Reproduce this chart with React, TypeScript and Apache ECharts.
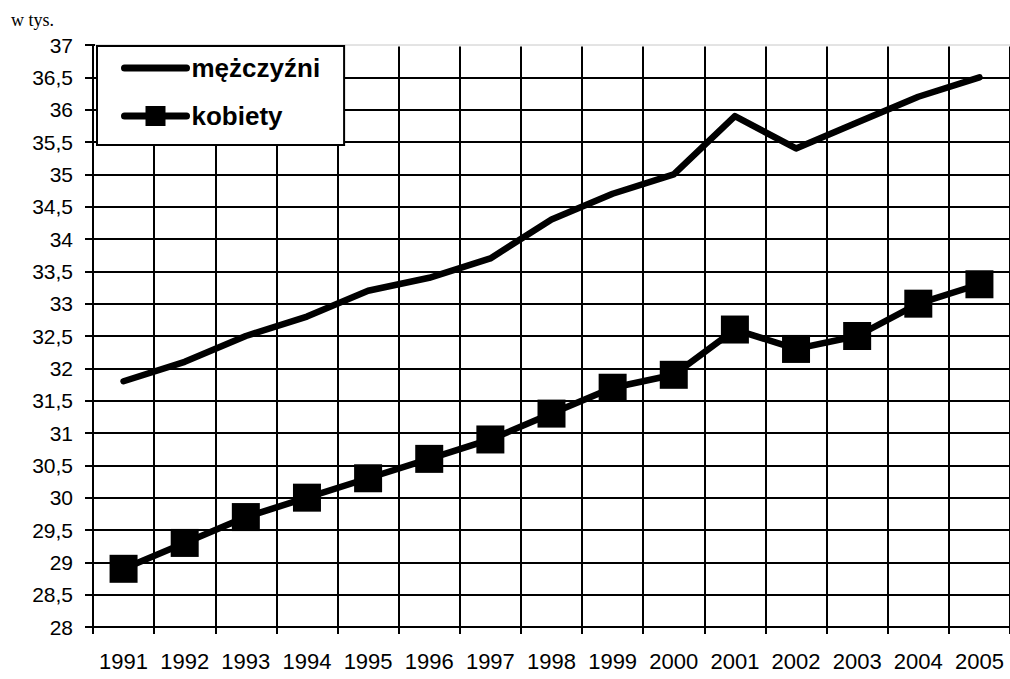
import React, { useEffect, useRef } from "react";
import * as echarts from "echarts";

const years = ["1991", "1992", "1993", "1994", "1995", "1996", "1997", "1998", "1999", "2000", "2001", "2002", "2003", "2004", "2005"];
const men = [31.8, 32.1, 32.5, 32.8, 33.2, 33.4, 33.7, 34.3, 34.7, 35.0, 35.9, 35.4, 35.8, 36.2, 36.5];
const women = [28.9, 29.3, 29.7, 30.0, 30.3, 30.6, 30.9, 31.3, 31.7, 31.9, 32.6, 32.3, 32.5, 33.0, 33.3];
const seriesNames = ["mężczyźni", "kobiety"];
const unitLabel = "w tys.";

const labelFont = "'Liberation Sans Narrow', 'Liberation Sans', Arial, sans-serif";

export default function App() {
  const ref = useRef<HTMLDivElement>(null);
  useEffect(() => {
    if (!ref.current) return;
    const chart = echarts.init(ref.current, null, { renderer: "svg" });
    const gridTop = 45;
    const gridLeft = 93;
    chart.setOption({
      animation: false,
      backgroundColor: "#ffffff",
      title: {
        text: unitLabel,
        left: 6,
        top: 6,
        textStyle: { fontFamily: "'Liberation Serif', 'Times New Roman', serif", fontSize: 18, fontWeight: "normal", color: "#000" },
      },
      grid: { left: gridLeft, top: gridTop, bottom: 52, right: -6, containLabel: false },
      legend: {
        orient: "vertical",
        left: 97,
        top: 46,
        backgroundColor: "#fff",
        borderColor: "#000",
        borderWidth: 2,
        borderRadius: 0,
        padding: [9, 24, 16, 24],
        itemGap: 22,
        itemWidth: 62,
        itemHeight: 25,
        lineStyle: { width: 7, color: "#000", cap: "round" },
        textStyle: { fontFamily: "'Liberation Sans', Arial, sans-serif", fontWeight: "bold", fontSize: 26, color: "#000" },
        data: [
          { name: seriesNames[0], itemStyle: { color: "rgba(0,0,0,0)", borderWidth: 0 } },
          { name: seriesNames[1] },
        ],
        z: 10,
      },
      xAxis: {
        type: "category",
        data: years,
        boundaryGap: true,
        axisLine: { show: true, lineStyle: { color: "#000", width: 2 } },
        axisTick: { show: true, alignWithLabel: false, length: 7, lineStyle: { color: "#000", width: 2 } },
        axisLabel: { margin: 23, fontFamily: labelFont, fontSize: 22, color: "#000", interval: 0 },
        splitLine: { show: true, interval: 0, lineStyle: { color: "#000", width: 2 } },
      },
      yAxis: {
        type: "value",
        min: 28,
        max: 37,
        interval: 0.5,
        axisLine: { show: true, lineStyle: { color: "#000", width: 2 } },
        axisTick: { show: true, length: 8, lineStyle: { color: "#000", width: 2 } },
        axisLabel: {
          margin: 20,
          fontFamily: labelFont,
          fontSize: 21,
          color: "#000",
          formatter: (v: number) => String(v).replace(".", ","),
        },
        splitLine: { show: true, lineStyle: { color: "#000", width: 2 } },
      },
      graphic: [
        { type: "line", shape: { x1: gridLeft + 2, y1: gridTop, x2: 1010, y2: gridTop }, style: { stroke: "#fff", lineWidth: 3 }, z: 5 },
        { type: "line", shape: { x1: gridLeft + 2, y1: gridTop, x2: 1010, y2: gridTop }, style: { stroke: "#c8c8c8", lineWidth: 1 }, z: 6 },
      ],
      series: [
        {
          name: seriesNames[0],
          type: "line",
          data: men,
          symbol: "none",
          lineStyle: { color: "#000", width: 6.5, cap: "round", join: "round" },
          itemStyle: { color: "#000" },
          z: 3,
        },
        {
          name: seriesNames[1],
          type: "line",
          data: women,
          symbol: "rect",
          symbolSize: 28,
          lineStyle: { color: "#000", width: 6.5, cap: "round", join: "round" },
          itemStyle: { color: "#000" },
          z: 3,
        },
      ],
    });
    return () => chart.dispose();
  }, []);
  return <div ref={ref} style={{ position: "fixed", left: 0, top: 0, width: 1010, height: 679 }} />;
}
